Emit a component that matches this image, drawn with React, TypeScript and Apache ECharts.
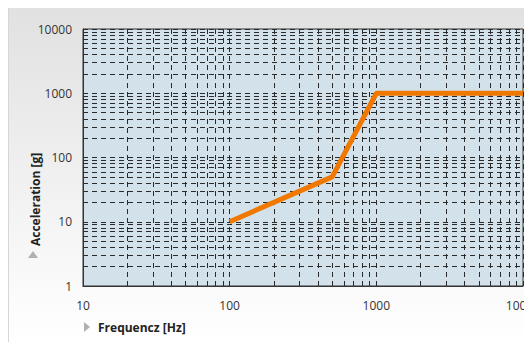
import React, { useEffect, useRef } from "react";
import * as echarts from "echarts";

const frequencies = [100, 500, 1000, 10000];
const accelerations = [10, 50, 1000, 1000];
const xMinorGrid = [20, 30, 40, 50, 60, 70, 80, 90, 200, 300, 400, 500, 600, 700, 800, 900, 2000, 3000, 4000, 5000, 6000, 7000, 8000, 9000];
const yMinorGrid = [2, 3, 4, 5, 6, 7, 8, 9, 20, 30, 40, 50, 60, 70, 80, 90, 200, 300, 400, 500, 600, 700, 800, 900, 2000, 3000, 4000, 5000, 6000, 7000, 8000, 9000];
const xAxisName = "Frequencz [Hz]";
const yAxisName = "Acceleration [g]";

export default function App() {
  const ref = useRef<HTMLDivElement>(null);
  useEffect(() => {
    document.documentElement.style.overflow = "hidden";
    const chart = echarts.init(ref.current!, null, { renderer: "svg" });
    const gridLine = { color: "#2a2a2a", width: 1, type: [5, 4] as any };
    const labelStyle = { fontFamily: "Open Sans", fontSize: 12, color: "#333", formatter: (v: number) => String(v) };
    chart.setOption({
      animation: false,
      backgroundColor: {
        type: "linear", x: 0, y: 0, x2: 0, y2: 1,
        colorStops: [{ offset: 0, color: "#e1e1e1" }, { offset: 1, color: "#ffffff" }],
      },
      grid: {
        left: 75, top: 21, width: 440, height: 257,
        outerBoundsMode: "none", containLabel: false,
        show: true, backgroundColor: "#d3e2ea", borderColor: "#333", borderWidth: 1,
      },
      xAxis: {
        type: "log", logBase: 10, min: 10, max: 10000,
        axisLine: { show: true, lineStyle: { color: "#333" } },
        axisTick: { show: false },
        axisLabel: { ...labelStyle, margin: 13 },
        splitLine: { show: true, lineStyle: gridLine },
      },
      yAxis: {
        type: "log", logBase: 10, min: 1, max: 10000,
        axisLine: { show: true, lineStyle: { color: "#333" } },
        axisTick: { show: false },
        axisLabel: { ...labelStyle, margin: 11 },
        splitLine: { show: true, lineStyle: gridLine },
      },
      graphic: [
        { type: "line", shape: { x1: 0.5, y1: 0, x2: 0.5, y2: 334 }, style: { stroke: "#d6d6d6", lineWidth: 1 } },
        { type: "polygon", shape: { points: [[76, 314], [82, 319], [76, 324]] }, style: { fill: "#b0b0b0" } },
        { type: "text", x: 90, y: 319, style: { text: xAxisName, fontFamily: "Open Sans", fontWeight: "bold", fontSize: 12, fill: "#222", verticalAlign: "middle", align: "left" } },
        { type: "polygon", shape: { points: [[20, 250], [25, 243], [30, 250]] }, style: { fill: "#b0b0b0" } },
        { type: "text", x: 27, y: 238, rotation: Math.PI / 2, style: { text: yAxisName, fontFamily: "Open Sans", fontWeight: "bold", fontSize: 12, fill: "#222", verticalAlign: "middle", align: "left" } },
      ],
      series: [
        {
          type: "line", data: [], z: 1, silent: true,
          markLine: {
            silent: true, symbol: "none", label: { show: false },
            lineStyle: gridLine,
            data: [
              ...xMinorGrid.map((v) => ({ xAxis: v })),
              ...yMinorGrid.map((v) => ({ yAxis: v })),
            ],
          },
        },
        {
          type: "line", z: 5,
          data: frequencies.map((f, i) => [f, accelerations[i]]),
          showSymbol: false, symbol: "none",
          lineStyle: { color: "#f07800", width: 5 },
        },
      ],
    });
    return () => chart.dispose();
  }, []);
  return <div ref={ref} style={{ width: 524, height: 334 }} />;
}
